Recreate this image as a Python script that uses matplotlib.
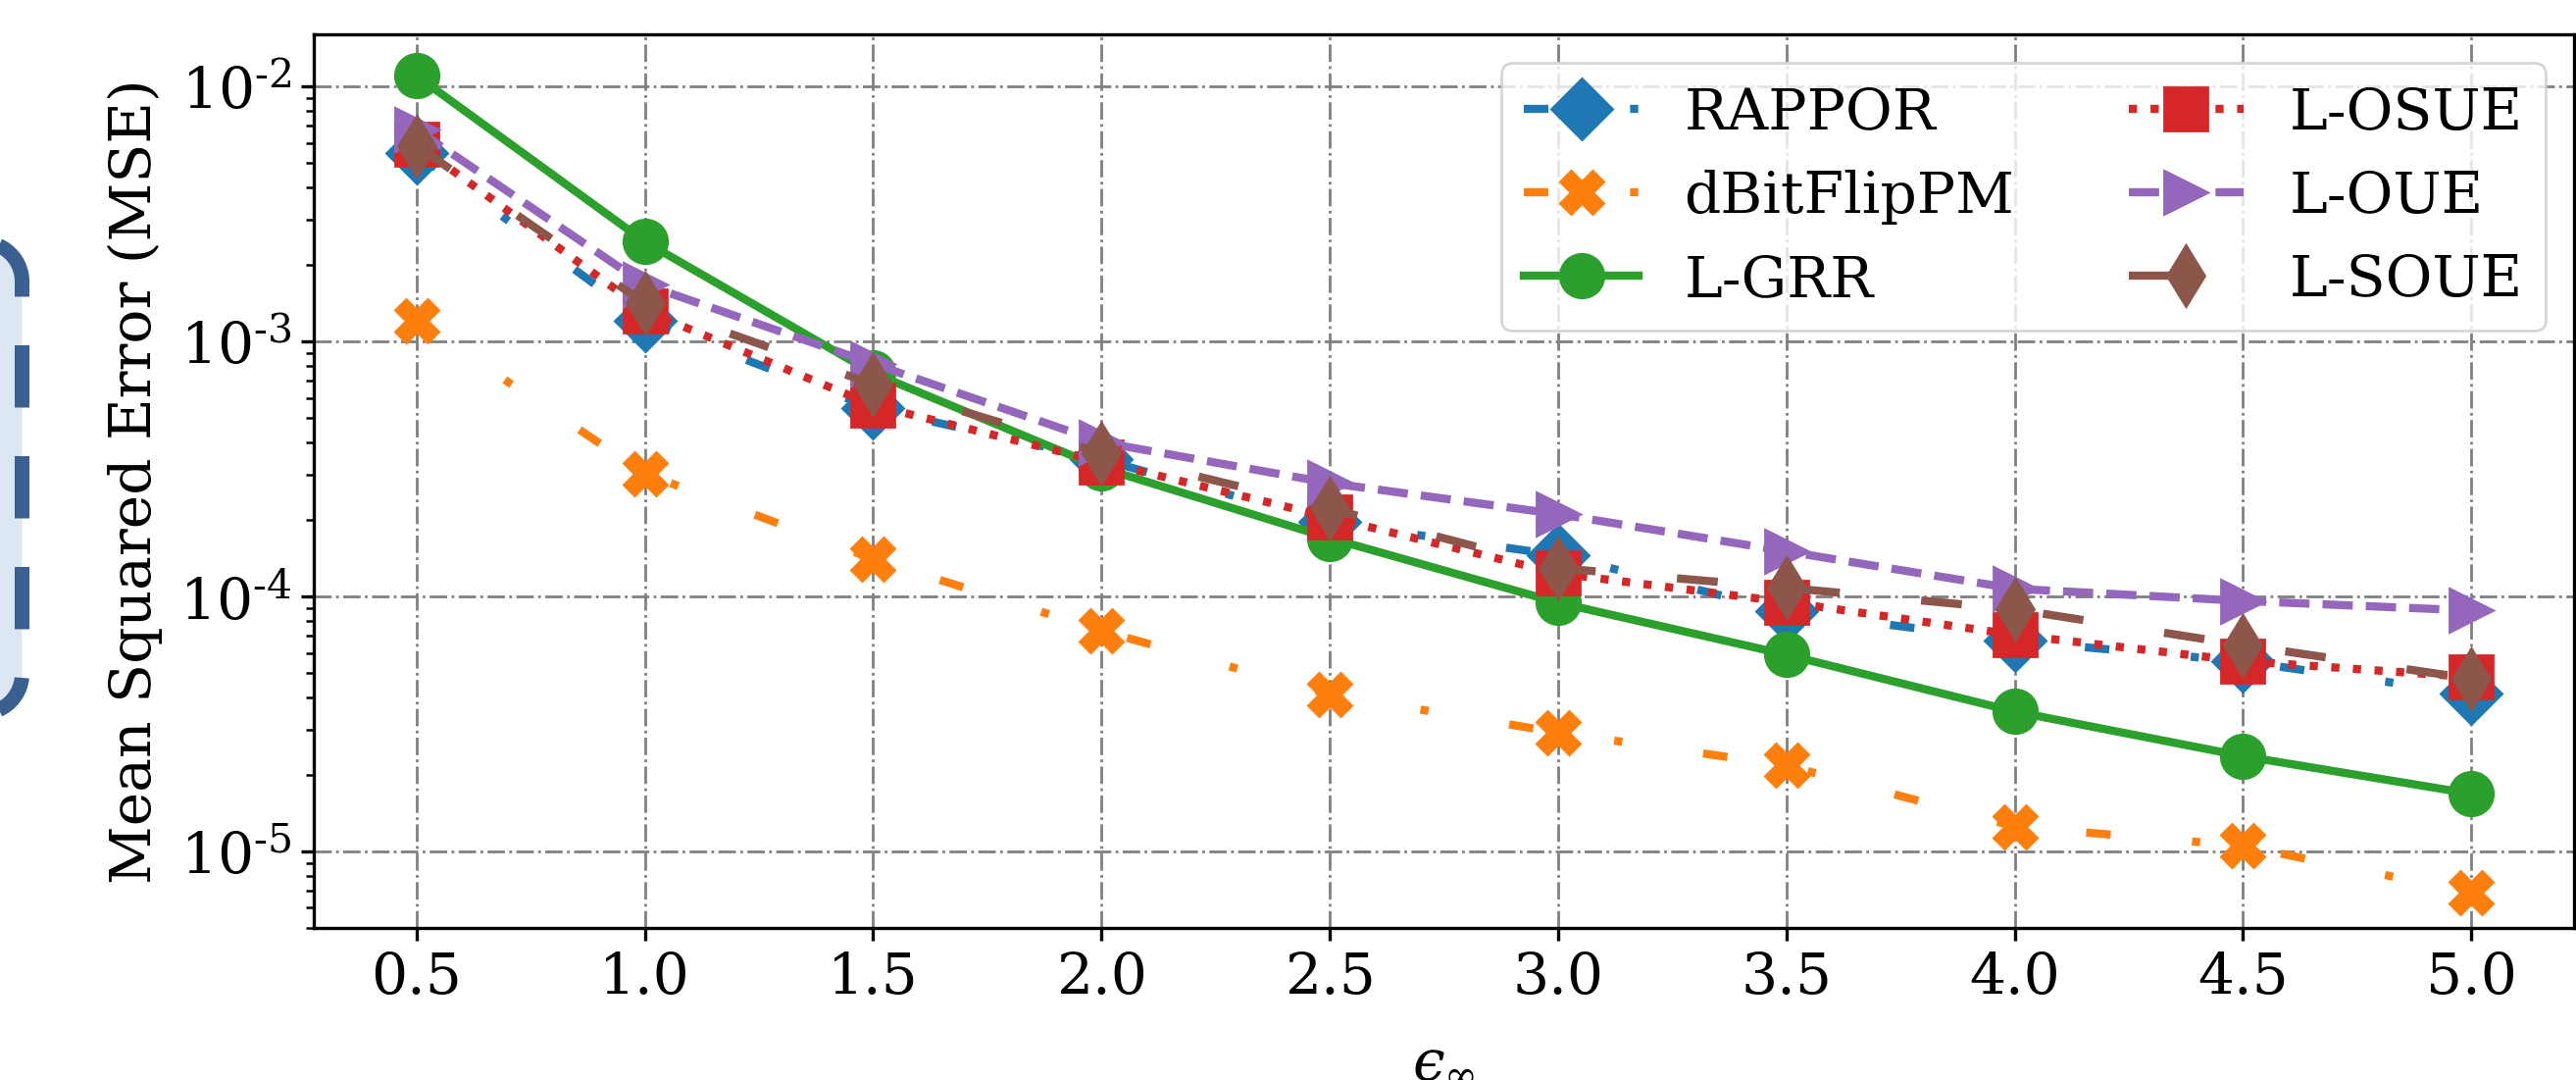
import numpy as np
import matplotlib
matplotlib.use("Agg")
import matplotlib.pyplot as plt
from matplotlib.lines import Line2D
from matplotlib.patches import Polygon
from matplotlib.transforms import Affine2D
from matplotlib.ticker import FuncFormatter

# ---------------- data ----------------
eps = [0.5, 1.0, 1.5, 2.0, 2.5, 3.0, 3.5, 4.0, 4.5, 5.0]
xtick_labels = ["0.5", "1.0", "1.5", "2.0", "2.5", "3.0", "3.5", "4.0", "4.5", "5.0"]

rappor = [5.47e-3, 1.20e-3, 5.46e-4, 3.44e-4, 1.95e-4, 1.45e-4, 8.71e-5, 6.68e-5, 5.55e-5, 4.14e-5]
dbitflippm = [1.205e-3, 3.03e-4, 1.40e-4, 7.33e-5, 4.12e-5, 2.92e-5, 2.17e-5, 1.25e-5, 1.05e-5, 6.87e-6]
l_grr = [1.10e-2, 2.46e-3, 7.5e-4, 3.19e-4, 1.69e-4, 9.44e-5, 5.90e-5, 3.53e-5, 2.36e-5, 1.68e-5]
l_osue = [5.93e-3, 1.32e-3, 5.62e-4, 3.37e-4, 2.04e-4, 1.23e-4, 9.49e-5, 7.06e-5, 5.57e-5, 4.82e-5]
l_oue = [6.77e-3, 1.67e-3, 8.17e-4, 4.02e-4, 2.78e-4, 2.10e-4, 1.50e-4, 1.07e-4, 9.59e-5, 8.79e-5]
l_soue = [5.85e-3, 1.41e-3, 6.78e-4, 3.65e-4, 2.21e-4, 1.29e-4, 1.08e-4, 8.89e-5, 6.43e-5, 4.75e-5]

series = [
    ("RAPPOR", rappor, "#1f77b4", "D", (0, (3, 10, 1, 10))),
    ("dBitFlipPM", dbitflippm, "#ff7f0e", "X", (0, (3, 10, 1, 10))),
    ("L-GRR", l_grr, "#2ca02c", "o", "-"),
    ("L-OSUE", l_osue, "#d62728", "s", ":"),
    ("L-OUE", l_oue, "#9467bd", ">", "--"),
    ("L-SOUE", l_soue, "#8c564b", "d", (0, (5, 10))),
]

# ---------------- style ----------------
plt.rcParams["font.family"] = ["DejaVu Serif"]
plt.rcParams["mathtext.fontset"] = "dejavuserif"
plt.rcParams["axes.unicode_minus"] = False
FS = 21

DPI = 200
W, H = 2627, 1101
fig = plt.figure(figsize=(W / DPI, H / DPI), dpi=DPI)
ax = fig.add_axes([320 / W, (H - 946) / H, 2305 / W, 911 / H])

for name, vals, col, mk, ls in series:
    ax.plot(eps, vals, color=col, marker=mk, linestyle=ls, linewidth=3,
            markersize=16, label=name)

ax.set_yscale("log")
ax.set_xlim(0.275, 5.225)
ax.set_ylim(5.0e-6, 1.6e-2)
ax.set_xticks(eps)
ax.set_xticklabels(xtick_labels)


def log_fmt(v, pos):
    e = int(round(np.log10(v)))
    if e < 0:
        return r"$10^{\text{-}%d}$" % (-e)
    return r"$10^{%d}$" % e


ax.yaxis.set_major_formatter(FuncFormatter(log_fmt))

ax.grid(True, which="major", linestyle="-.", color="gray", linewidth=1.0)
ax.tick_params(axis="both", which="major", labelsize=FS, length=4.7, width=1.2)
ax.tick_params(axis="y", which="minor", length=2.9, width=0.9)
for sp in ax.spines.values():
    sp.set_linewidth(1.2)

ax.set_ylabel("Mean Squared Error (MSE)", fontsize=FS, labelpad=6)
ax.set_xlabel("$\u03f5_{\\infty}$", fontsize=FS, labelpad=10)

ax.legend(loc="upper right", ncol=2, fontsize=FS)

# ---------------- left decoration (cropped neighbouring box) ----------------
def pix(xp, yp_top):
    return xp, H - yp_top

r = 40.0
xc = 22.5
top_c = 247 + r
bot_c = 727 - r
pts = []
for th in np.linspace(np.pi / 2, 0, 30):
    pts.append(pix(xc - r + r * np.cos(th), top_c - r * np.sin(th)))
for th in np.linspace(0, -np.pi / 2, 30):
    pts.append(pix(xc - r + r * np.cos(th), bot_c - r * np.sin(th)))
pts = np.array(pts)
fill_pts = np.vstack([[[-60, H - 247]], pts, [[-60, H - 727]]])
ident = Affine2D()
poly = Polygon(fill_pts, closed=True, facecolor="#dde7f3", edgecolor="none",
               transform=ident, clip_on=False)
fig.patches.append(poly)
lw_px = 15.0
lw_pt = lw_px * 72 / DPI
on = 63.5 * 72 / DPI / lw_pt
off = 49.5 * 72 / DPI / lw_pt
edge = Line2D(pts[:, 0], pts[:, 1], color="#3a6091", linewidth=lw_pt,
              linestyle=(2.2 * 72 / DPI / lw_pt, (on, off)), transform=ident,
              solid_capstyle="butt", dash_capstyle="butt")
fig.lines.append(edge)

fig.savefig("out.png", dpi=DPI)
